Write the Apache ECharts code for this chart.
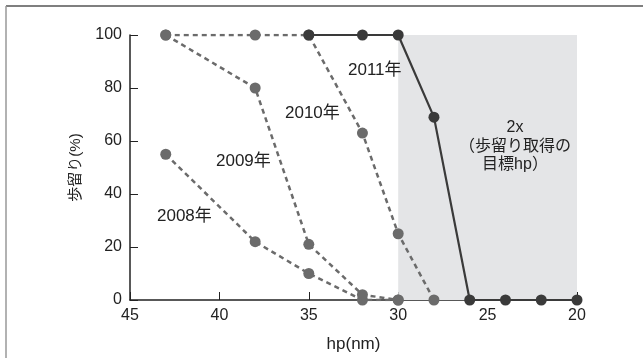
<!DOCTYPE html>
<html><head><meta charset="utf-8">
<script src="https://cdn.jsdelivr.net/npm/echarts@6/dist/echarts.min.js"></script>
<style>html,body{margin:0;padding:0;background:#fff}#c{width:643px;height:358px}</style>
</head><body><div id="c"></div>
<script>
const xTicks = [45, 40, 35, 30, 25, 20];
const yTicks = [0, 20, 40, 60, 80, 100];
const hp2008 = [43, 38, 35, 32, 30];
const y2008 = [55, 22, 10, 0, 0];
const hp2009 = [43, 38, 35, 32, 30];
const y2009 = [100, 80, 21, 2, 0];
const hp2010 = [43, 38, 35, 32, 30, 28];
const y2010 = [100, 100, 100, 63, 25, 0];
const hp2011 = [35, 32, 30, 28, 26, 24, 22, 20];
const y2011 = [100, 100, 100, 69, 0, 0, 0, 0];
const targetRange = [30, 20];
const seriesNames = ['2008年', '2009年', '2010年', '2011年'];
const targetLines = ['2x', '（歩留り取得の', '目標hp）'];

const FONT = '"Liberation Sans", Arial, "Noto Sans CJK JP", sans-serif';
const pair = (xs, ys) => xs.map((x, i) => [x, ys[i]]);
const gray = '#6b6b6b', dark = '#3a3a3a';
function dashed(name, xs, ys) {
  return { name, type: 'line', data: pair(xs, ys), symbol: 'circle', symbolSize: 11,
    itemStyle: { color: gray }, lineStyle: { color: gray, width: 2.5, type: [5, 4] }, z: 3, animation: false };
}
const chart = echarts.init(document.getElementById('c'));
chart.setOption({
  animation: false,
  grid: { left: 130, right: 66, top: 35, bottom: 54 },
  xAxis: { type: 'value', min: 20, max: 45, interval: 5, inverse: true,
    name: 'hp(nm)', nameLocation: 'middle', nameGap: 36,
    nameTextStyle: { fontFamily: FONT, fontSize: 17, color: '#222' },
    axisLine: { lineStyle: { color: '#222', width: 1.5 } },
    axisTick: { inside: true, length: 8, lineStyle: { color: '#222', width: 1 } },
    axisLabel: { fontFamily: FONT, fontSize: 16, color: '#222', margin: 8 },
    splitLine: { show: false } },
  yAxis: { type: 'value', min: 0, max: 100, interval: 20,
    name: '歩留り(%)', nameLocation: 'middle', nameGap: 47, nameRotate: 90,
    nameTextStyle: { fontFamily: FONT, fontSize: 15, color: '#222' },
    axisLine: { show: true, lineStyle: { color: '#222', width: 1.5 } },
    axisTick: { show: true, inside: true, length: 8, lineStyle: { color: '#222', width: 1 } },
    axisLabel: { fontFamily: FONT, fontSize: 16, color: '#222', margin: 8 },
    splitLine: { show: false } },
  series: [
    { type: 'line', data: [], z: 0, markArea: { silent: true, itemStyle: { color: '#e4e5e7' },
        data: [[{ coord: [targetRange[0], 0] }, { coord: [targetRange[1], 100] }]] } },
    dashed(seriesNames[0], hp2008, y2008),
    dashed(seriesNames[1], hp2009, y2009),
    dashed(seriesNames[2], hp2010, y2010),
    { name: seriesNames[3], type: 'line', data: pair(hp2011, y2011), symbol: 'circle', symbolSize: 11,
      itemStyle: { color: dark }, lineStyle: { color: dark, width: 2.2 }, z: 4 }
  ],
  graphic: [
    { type: 'line', z: 100, shape: { x1: 6, y1: 6, x2: 643, y2: 6 }, style: { stroke: '#555', lineWidth: 1.5 } },
    { type: 'line', z: 100, shape: { x1: 6, y1: 6, x2: 6, y2: 358 }, style: { stroke: '#999', lineWidth: 1.5 } },
    { type: 'text', z: 100, left: 348, top: 62, style: { text: seriesNames[3], font: '17px ' + FONT, fill: '#222' } },
    { type: 'text', z: 100, left: 285, top: 105, style: { text: seriesNames[2], font: '17px ' + FONT, fill: '#222' } },
    { type: 'text', z: 100, left: 216, top: 153, style: { text: seriesNames[1], font: '17px ' + FONT, fill: '#222' } },
    { type: 'text', z: 100, left: 157, top: 208, style: { text: seriesNames[0], font: '17px ' + FONT, fill: '#222' } }
  ].concat(targetLines.map((t, i) => ({ type: 'text', z: 100, x: 515, y: 128 + i * 18.5,
    style: { text: t, font: '16px ' + FONT, fill: '#222', align: 'center', verticalAlign: 'middle' } })))
});
</script></body></html>
